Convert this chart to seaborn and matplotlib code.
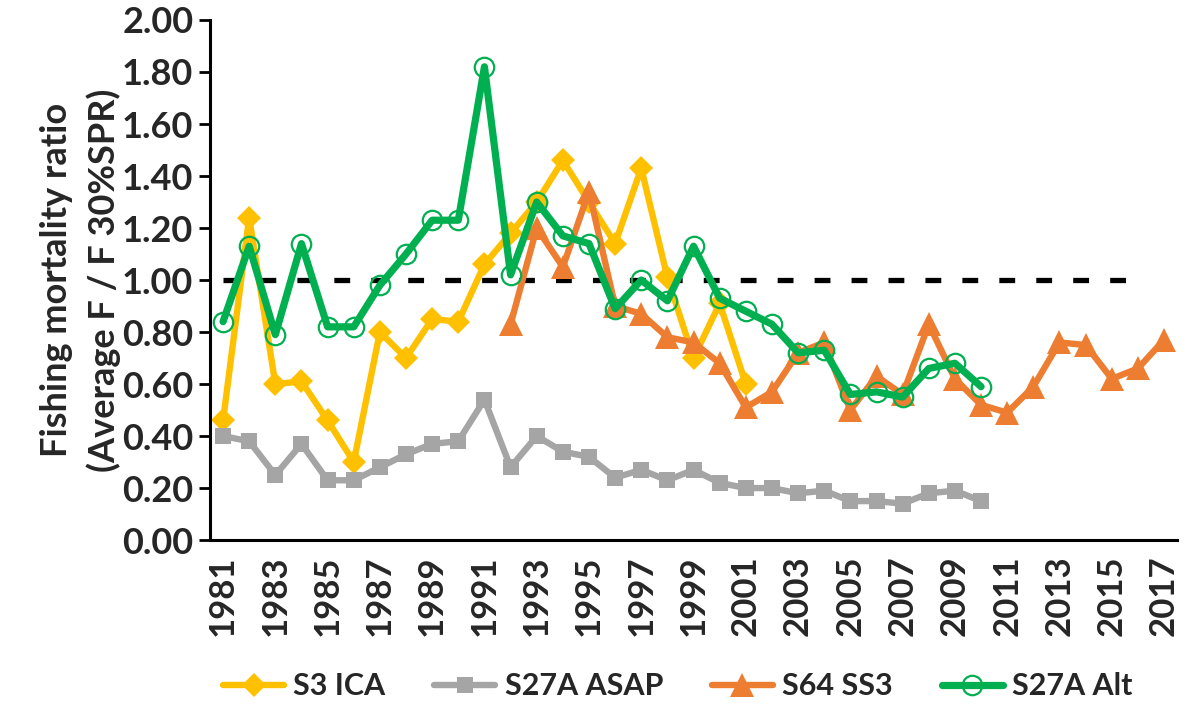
import numpy as np
import pandas as pd
import matplotlib
matplotlib.use("Agg")
import matplotlib.pyplot as plt
import seaborn as sns

# data
years = list(range(1981, 2018))

s3_years = list(range(1981, 2002))
s3_ica = [0.46, 1.24, 0.60, 0.61, 0.46, 0.30, 0.80, 0.70, 0.85, 0.84,
          1.06, 1.18, 1.30, 1.46, 1.30, 1.14, 1.43, 1.01, 0.70, 0.91, 0.60]

asap_years = list(range(1981, 2011))
s27a_asap = [0.40, 0.38, 0.25, 0.37, 0.23, 0.23, 0.28, 0.33, 0.37, 0.38,
             0.54, 0.28, 0.40, 0.34, 0.32, 0.24, 0.27, 0.23, 0.27, 0.22,
             0.20, 0.20, 0.18, 0.19, 0.15, 0.15, 0.14, 0.18, 0.19, 0.15]

ss3_years = list(range(1992, 2018))
s64_ss3 = [0.83, 1.20, 1.05, 1.34, 0.90, 0.87, 0.78, 0.76, 0.68, 0.51,
           0.57, 0.72, 0.76, 0.50, 0.63, 0.56, 0.83, 0.62, 0.52, 0.49,
           0.59, 0.76, 0.75, 0.62, 0.66, 0.77]

alt_years = list(range(1981, 2011))
s27a_alt = [0.84, 1.13, 0.79, 1.14, 0.82, 0.82, 0.98, 1.10, 1.23, 1.23,
            1.82, 1.02, 1.30, 1.17, 1.14, 0.89, 1.00, 0.92, 1.13, 0.93,
            0.88, 0.83, 0.72, 0.73, 0.56, 0.57, 0.55, 0.66, 0.68, 0.59]

ref_years = list(range(1981, 2017))
ref_level = 1.0

sns.set_style("white")
plt.rcParams['font.family'] = ['Lato', 'DejaVu Sans']
plt.rcParams['font.weight'] = 'bold'

fig = plt.figure(figsize=(11.89, 7.06), dpi=100)
ax = fig.add_axes([0.1766, 0.235, 0.8134, 0.7367])

# reference line F/F30%SPR = 1
sns.lineplot(x=ref_years, y=[ref_level] * len(ref_years), ax=ax, color="black",
             linewidth=3.8, linestyle=(0, (3.0, 4.0)), zorder=1)

sns.lineplot(x=s3_years, y=s3_ica, ax=ax, color="#FFC000", linewidth=4.6,
             marker="D", markersize=12, markeredgewidth=0, label="S3 ICA", zorder=2)
sns.lineplot(x=asap_years, y=s27a_asap, ax=ax, color="#A5A5A5", linewidth=4.6,
             marker="s", markersize=12, markeredgewidth=0, label="S27A ASAP", zorder=3)
sns.lineplot(x=ss3_years, y=s64_ss3, ax=ax, color="#ED7D31", linewidth=4.6,
             marker="^", markersize=17, markeredgewidth=0, label="S64 SS3", zorder=4)
sns.lineplot(x=alt_years, y=s27a_alt, ax=ax, color="#00B050", linewidth=5.2,
             marker="o", markersize=14, markerfacecolor="none",
             markeredgecolor="#00B050", markeredgewidth=1.6, label="S27A Alt", zorder=5)

ax.set_xlim(years[0] - 0.5, years[-1] + 0.5)
ax.set_ylim(0, 2.0)
ax.set_yticks(np.arange(0, 2.01, 0.2))
ax.set_yticklabels([f"{v:.2f}" for v in np.arange(0, 2.01, 0.2)], fontsize=26)

ax.set_xticks(years[::2])
ax.set_xticklabels([str(y) for y in years[::2]], rotation=90, fontsize=25)
ax.set_xticks([y - 0.5 for y in years] + [years[-1] + 0.5], minor=True)
ax.tick_params(axis="x", which="major", length=0, pad=11)
ax.tick_params(axis="x", which="minor", length=8, width=2, color="black", direction="out")
ax.tick_params(axis="y", which="major", length=8, width=2, color="black",
               direction="out", pad=4, left=True)

for side in ["top", "right"]:
    ax.spines[side].set_visible(False)
for side in ["left", "bottom"]:
    ax.spines[side].set_color("black")
    ax.spines[side].set_linewidth(2.2)

ax.set_xlabel("")
ax.set_ylabel("Fishing mortality ratio\n(Average F / F 30%SPR)", fontsize=26,
              fontweight="bold", linespacing=1.45)
ax.yaxis.set_label_coords(-0.092, 0.5)

handles, labels = ax.get_legend_handles_labels()
ax.legend_.remove()
fig.legend(handles, labels, loc="center", bbox_to_anchor=(0.57, 0.028), ncol=4,
           frameon=False, handlelength=2.0, handletextpad=0.3, columnspacing=1.6,
           prop={"family": ["Lato", "DejaVu Sans"], "weight": "bold", "size": 22})

fig.savefig("out.png", dpi=100)
